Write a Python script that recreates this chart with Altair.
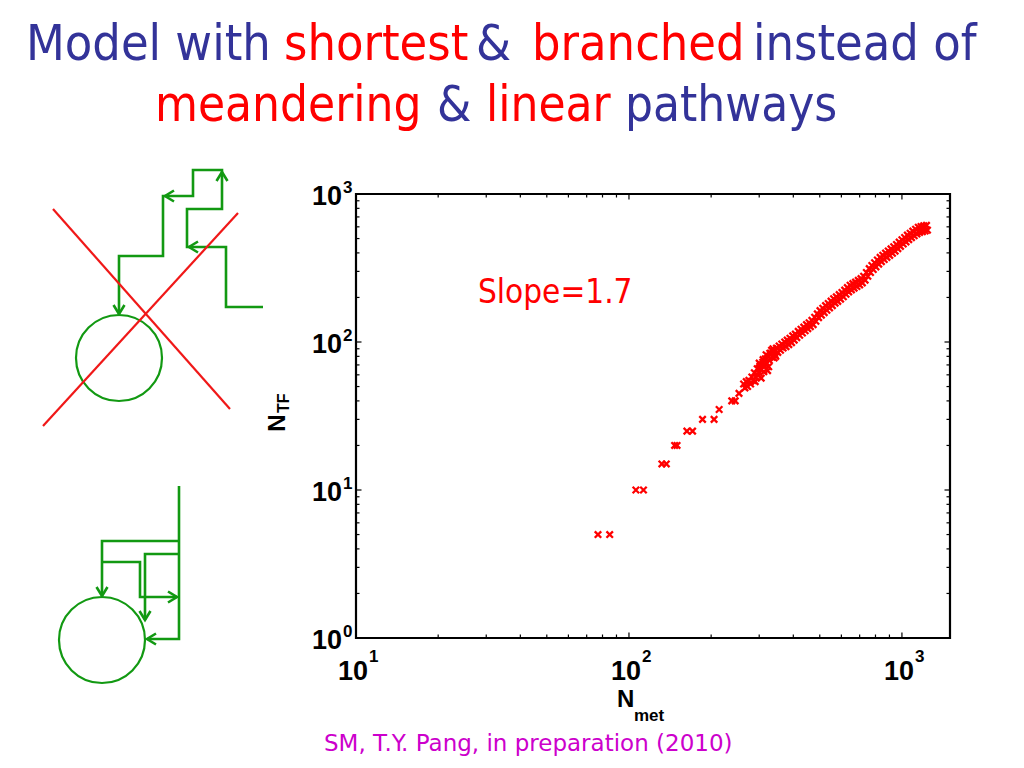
import altair as alt
import pandas as pd

# ---------------- data ----------------
SPARSE_MET = [77, 85, 106, 113, 132, 137, 147, 150, 163, 171, 186, 205, 214, 238, 245, 253]
SPARSE_TF = [5, 5, 10, 10, 15, 15, 20, 20, 25, 25, 30, 30, 35, 40, 40, 45]

BAND_A_MET = [263, 269, 275, 282, 288, 295, 302, 309, 316, 324, 331, 339, 347, 355, 363, 372,
              380, 389, 398, 407, 417, 427, 437, 447, 457, 468, 479, 490, 501, 513, 525, 537,
              550, 562, 575, 589, 603, 617, 631, 646, 661, 676, 692, 708, 724, 741, 759, 776,
              794, 813, 832, 851, 871, 891, 912, 933, 955, 977, 1000, 1023, 1047, 1072, 1096,
              1122, 1148, 1175, 1202, 1230]
BAND_A_TF = [52, 54, 55, 58, 62, 66, 69, 73, 77, 80, 84, 87, 91, 94, 97, 100,
             103, 106, 110, 113, 118, 122, 126, 131, 135, 140, 147, 155, 163, 169, 176, 182,
             189, 196, 202, 209, 216, 224, 233, 242, 248, 254, 261, 268, 278, 295, 313, 329,
             343, 358, 373, 386, 399, 412, 426, 440, 456, 473, 491, 508, 527, 543, 561,
             578, 596, 603, 610, 614]

BAND_B_MET = [266, 272, 279, 285, 292, 299, 305, 313, 320, 327, 335, 343, 351, 359, 367, 376,
              385, 394, 403, 412, 422, 432, 442, 452, 462, 473, 484, 495, 507, 519, 531, 543,
              556, 569, 582, 596, 610, 624, 638, 653, 668, 684, 700, 716, 733, 750, 767, 785,
              803, 822, 841, 861, 881, 902, 923, 944, 966, 988, 1011, 1035, 1059, 1084, 1109,
              1135, 1161, 1188, 1216, 1240]
BAND_B_TF = [49, 50, 52, 55, 58, 62, 65, 69, 72, 75, 79, 82, 85, 88, 91, 93,
             96, 99, 103, 107, 111, 115, 119, 123, 127, 131, 138, 146, 152, 158, 164, 170,
             176, 183, 188, 195, 202, 210, 218, 225, 231, 237, 243, 251, 262, 278, 295, 309,
             322, 336, 349, 361, 373, 385, 398, 411, 427, 443, 459, 475, 492, 507, 522,
             538, 550, 556, 562, 570]

BLOB_MET = [296, 300, 305, 310, 312, 318, 322, 325, 333, 340, 345, 290, 302, 315, 328, 337]
BLOB_TF = [60, 72, 57, 76, 63, 82, 64, 68, 88, 78, 80, 54, 66, 71, 84, 90]

N_MET = SPARSE_MET + BAND_A_MET + BAND_B_MET + BLOB_MET
N_TF = SPARSE_TF + BAND_A_TF + BAND_B_TF + BLOB_TF

X_MAJOR = [10, 100, 1000]
X_EXP = ["1", "2", "3"]
X_MINOR = [20, 30, 40, 50, 60, 70, 80, 90, 200, 300, 400, 500, 600, 700, 800, 900]
Y_MAJOR = [1, 10, 100, 1000]
Y_EXP = ["0", "1", "2", "3"]
Y_MINOR = [2, 3, 4, 5, 6, 7, 8, 9, 20, 30, 40, 50, 60, 70, 80, 90, 200, 300, 400, 500, 600, 700, 800, 900]

TITLE_1 = ["Model with", "shortest", "&", "branched", "instead of"]
TITLE_2 = ["meandering", "&", "linear", "pathways"]
SLOPE_TEXT = "Slope=1.7"
CAPTION = "SM, T.Y. Pang, in preparation (2010)"

# ---------------- style / layout ----------------
BLUE = "#333399"
RED = "#ff0000"
GREEN = "#129912"
LINE_RED = "#f01818"
MAGENTA = "#cc00cc"
SLIDE_FONT = "DejaVu Sans Condensed, DejaVu Sans"
CAPTION_FONT = "DejaVu Sans"
AX_FONT = "Liberation Sans"

W, H = 594, 444
OX, OY = 356, 194  # page position of the plot area

xs = alt.Scale(type="log", domain=[10, 1500], nice=False)
ys = alt.Scale(type="log", domain=[1, 1000], nice=False)

XPATH = "M-1,-1L1,1M-1,1L1,-1"

pts = pd.DataFrame({"n_met": N_MET, "n_tf": N_TF})
points = alt.Chart(pts).mark_point(
    shape=XPATH, filled=False, strokeWidth=2.3, size=42, color=RED, opacity=1
).encode(
    x=alt.X("n_met:Q", scale=xs, axis=None),
    y=alt.Y("n_tf:Q", scale=ys, axis=None),
)


def xtick_layer(vals, length, top):
    return alt.Chart(pd.DataFrame({"v": vals})).mark_rule(color="black", strokeWidth=1.2).encode(
        x=alt.X("v:Q", scale=xs, axis=None),
        y=alt.value(0 if top else H),
        y2=alt.value(length if top else H - length),
    )


def ytick_layer(vals, length, right):
    return alt.Chart(pd.DataFrame({"v": vals})).mark_rule(color="black", strokeWidth=1.2).encode(
        y=alt.Y("v:Q", scale=ys, axis=None),
        x=alt.value(W if right else 0),
        x2=alt.value(W - length if right else length),
    )


ticks = [
    xtick_layer(X_MINOR, 3.5, False), xtick_layer(X_MINOR, 3.5, True),
    xtick_layer(X_MAJOR, 5.5, False), xtick_layer(X_MAJOR, 5.5, True),
    ytick_layer(Y_MINOR, 3.5, False), ytick_layer(Y_MINOR, 3.5, True),
    ytick_layer(Y_MAJOR, 5.5, False), ytick_layer(Y_MAJOR, 5.5, True),
]

xl = pd.DataFrame({"v": X_MAJOR, "e": X_EXP, "b": ["10"] * len(X_MAJOR)})
yl = pd.DataFrame({"v": Y_MAJOR, "e": Y_EXP, "b": ["10"] * len(Y_MAJOR)})

x_base = alt.Chart(xl).mark_text(
    font=AX_FONT, fontSize=27, fontWeight="bold", align="center", baseline="alphabetic", dx=-3, color="black"
).encode(x=alt.X("v:Q", scale=xs, axis=None), y=alt.value(H + 42), text="b:N")
x_exp = alt.Chart(xl).mark_text(
    font=AX_FONT, fontSize=17, fontWeight="bold", align="left", baseline="alphabetic", dx=13, color="black"
).encode(x=alt.X("v:Q", scale=xs, axis=None), y=alt.value(H + 24), text="e:N")
y_base = alt.Chart(yl).mark_text(
    font=AX_FONT, fontSize=27, fontWeight="bold", align="right", baseline="alphabetic", dy=11, color="black"
).encode(y=alt.Y("v:Q", scale=ys, axis=None), x=alt.value(-14), text="b:N")
y_exp = alt.Chart(yl).mark_text(
    font=AX_FONT, fontSize=17, fontWeight="bold", align="left", baseline="alphabetic", dy=-1, color="black"
).encode(y=alt.Y("v:Q", scale=ys, axis=None), x=alt.value(-13), text="e:N")

plot_group = alt.layer(points, *ticks, x_base, x_exp, y_base, y_exp)

# ---------------- left-hand diagrams (page coordinates) ----------------
GREEN_PATHS = [
    [(263, 307), (226, 307), (226, 247), (187, 247), (187, 209), (222, 209), (222, 170),
     (193, 170), (193, 196), (163, 196), (163, 256), (119, 256), (119, 314)],
    [(198, 241.5), (189, 247), (198, 252.5)],
    [(216.5, 181), (222, 172), (227.5, 181)],
    [(174, 190.5), (165, 196), (174, 201.5)],
    [(113.5, 305), (119, 314), (124.5, 305)],
    [(179, 486), (179, 639), (147, 639)],
    [(179, 541), (102, 541), (102, 596)],
    [(179, 554), (145, 554), (145, 620)],
    [(102, 562), (140, 562), (140, 597), (177, 597)],
    [(156, 633.5), (147, 639), (156, 644.5)],
    [(96.5, 587), (102, 596), (107.5, 587)],
    [(139.5, 611), (145, 620), (150.5, 611)],
    [(168, 591.5), (177, 597), (168, 602.5)],
]
RED_PATHS = [
    [(53, 209), (230, 409)],
    [(238, 213), (43, 426)],
]
CIRCLES = [(119, 358), (102, 640)]


def path_df(paths):
    rows = []
    for pid, p in enumerate(paths):
        for i, (x, y) in enumerate(p):
            rows.append({"p": pid, "i": i, "x": x, "y": y})
    return pd.DataFrame(rows)


dxs = alt.Scale(domain=[OX, OX + W], nice=False, zero=False)
dys = alt.Scale(domain=[OY, OY + H], nice=False, zero=False, reverse=True)

green_lines = alt.Chart(path_df(GREEN_PATHS)).mark_line(
    color=GREEN, strokeWidth=2.6, strokeJoin="miter"
).encode(
    x=alt.X("x:Q", scale=dxs, axis=None),
    y=alt.Y("y:Q", scale=dys, axis=None),
    detail="p:N",
    order="i:Q",
)
red_lines = alt.Chart(path_df(RED_PATHS)).mark_line(color=LINE_RED, strokeWidth=2.2).encode(
    x=alt.X("x:Q", scale=dxs, axis=None),
    y=alt.Y("y:Q", scale=dys, axis=None),
    detail="p:N",
    order="i:Q",
)
circles = alt.Chart(pd.DataFrame({"x": [c[0] for c in CIRCLES], "y": [c[1] for c in CIRCLES]})).mark_point(
    shape="circle", filled=False, size=86 * 86, strokeWidth=2.2, color=GREEN, opacity=1
).encode(
    x=alt.X("x:Q", scale=dxs, axis=None),
    y=alt.Y("y:Q", scale=dys, axis=None),
)
deco_group = alt.layer(green_lines, circles, red_lines)

# ---------------- slide texts ----------------
ONE = pd.DataFrame({"k": [0]})


def txt(text, x, y, size, color, font=SLIDE_FONT, weight="normal", align="left", angle=0):
    kw = dict(text=text, font=font, fontSize=size, color=color, fontWeight=weight,
              align=align, baseline="alphabetic")
    if angle:
        kw["angle"] = angle
    return alt.Chart(ONE).mark_text(**kw).encode(x=alt.value(x - OX), y=alt.value(y - OY))


title_colors_1 = [BLUE, RED, BLUE, RED, BLUE]
title_x_1 = [26, 284, 476, 532, 753]
title_colors_2 = [RED, BLUE, RED, BLUE]
title_x_2 = [155, 437, 486, 625]

texts = []
for t, c, x in zip(TITLE_1, title_colors_1, title_x_1):
    texts.append(txt(t, x, 60, 50, c))
for t, c, x in zip(TITLE_2, title_colors_2, title_x_2):
    texts.append(txt(t, x, 121, 49, c))
texts.append(txt(SLOPE_TEXT, 478, 303, 33, RED))
texts.append(txt(CAPTION, 324, 751, 23, MAGENTA, font=CAPTION_FONT))
texts.append(txt("N", 617, 707, 24, "black", font=AX_FONT, weight="bold"))
texts.append(txt("met", 634, 721, 17, "black", font=AX_FONT, weight="bold"))
texts.append(txt("N", 285, 423, 24, "black", font=AX_FONT, weight="bold", align="center", angle=270))
texts.append(txt("TF", 289, 413, 16, "black", font=AX_FONT, weight="bold", angle=270))
text_group = alt.layer(*texts)

chart = alt.layer(plot_group, deco_group, text_group).resolve_scale(
    x="independent", y="independent"
).properties(
    width=W,
    height=H,
    autosize=alt.AutoSizeParams(type="none"),
    padding={"left": OX - 8, "top": OY - 8, "right": 1024 - 16 - (OX - 8) - W, "bottom": 768 - 16 - (OY - 8) - H},
    background="white",
).configure_view(stroke="black", strokeWidth=2.2)

chart.save("out.html", embed_options={"renderer": "svg", "actions": False})
